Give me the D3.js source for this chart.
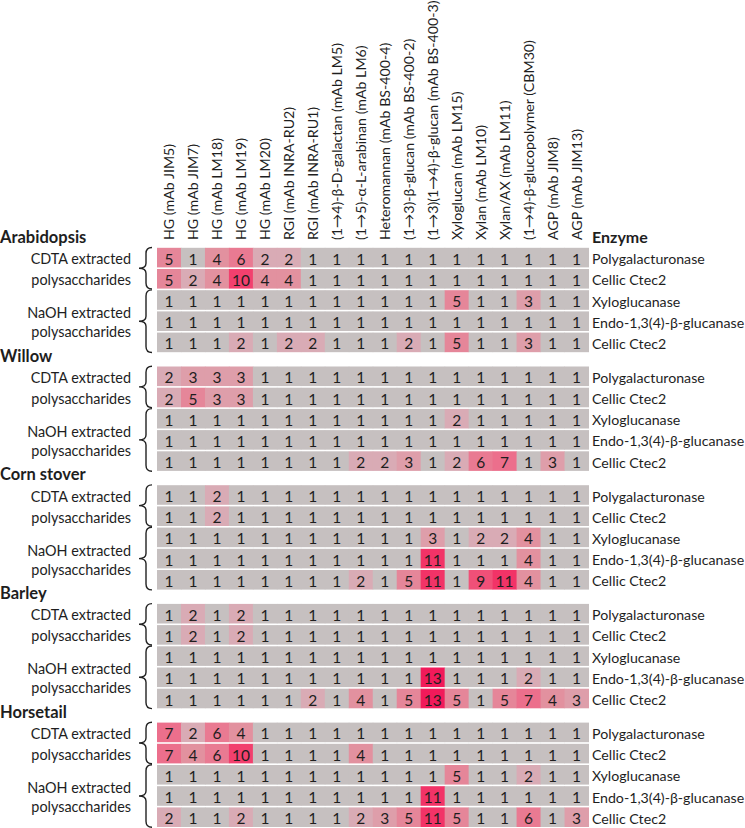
<!DOCTYPE html>
<html>
<head>
<meta charset="utf-8">
<script src="https://cdn.jsdelivr.net/npm/d3@7"></script>
<style>
  body { margin: 0; background: #fff; }
  svg { display: block; font-family: Lato, "Open Sans", sans-serif; }
</style>
</head>
<body>
<div id="chart"></div>
<script>
// Antibodies / probes (columns)
const probes = [
  'HG (mAb JIM5)', 'HG (mAb JIM7)', 'HG (mAb LM18)', 'HG (mAb LM19)', 'HG (mAb LM20)',
  'RGI (mAb INRA-RU2)', 'RGI (mAb INRA-RU1)', '(1→4)-β-D-galactan (mAb LM5)',
  '(1→5)-α-L-arabinan (mAb LM6)', 'Heteromannan (mAb BS-400-4)', '(1→3)-β-glucan (mAb BS-400-2)',
  '(1→3)(1→4)-β-glucan (mAb BS-400-3)', 'Xyloglucan (mAb LM15)', 'Xylan (mAb LM10)',
  'Xylan/AX (mAb LM11)', '(1→4)-β-glucopolymer (CBM30)', 'AGP (mAb JIM8)', 'AGP (mAb JIM13)'
];

const species = ['Arabidopsis', 'Willow', 'Corn stover', 'Barley', 'Horsetail'];
const enzymes = ['Polygalacturonase', 'Cellic Ctec2', 'Xyloglucanase', 'Endo-1,3(4)-β-glucanase', 'Cellic Ctec2'];

// fold change values, rows follow the enzymes list (2 CDTA rows, 3 NaOH rows)
const arabidopsis = [
  [5, 1, 4, 6, 2, 2, 1, 1, 1, 1, 1, 1, 1, 1, 1, 1, 1, 1],
  [5, 2, 4, 10, 4, 4, 1, 1, 1, 1, 1, 1, 1, 1, 1, 1, 1, 1],
  [1, 1, 1, 1, 1, 1, 1, 1, 1, 1, 1, 1, 5, 1, 1, 3, 1, 1],
  [1, 1, 1, 1, 1, 1, 1, 1, 1, 1, 1, 1, 1, 1, 1, 1, 1, 1],
  [1, 1, 1, 2, 1, 2, 2, 1, 1, 1, 2, 1, 5, 1, 1, 3, 1, 1]
];
const willow = [
  [2, 3, 3, 3, 1, 1, 1, 1, 1, 1, 1, 1, 1, 1, 1, 1, 1, 1],
  [2, 5, 3, 3, 1, 1, 1, 1, 1, 1, 1, 1, 1, 1, 1, 1, 1, 1],
  [1, 1, 1, 1, 1, 1, 1, 1, 1, 1, 1, 1, 2, 1, 1, 1, 1, 1],
  [1, 1, 1, 1, 1, 1, 1, 1, 1, 1, 1, 1, 1, 1, 1, 1, 1, 1],
  [1, 1, 1, 1, 1, 1, 1, 1, 2, 2, 3, 1, 2, 6, 7, 1, 3, 1]
];
const cornStover = [
  [1, 1, 2, 1, 1, 1, 1, 1, 1, 1, 1, 1, 1, 1, 1, 1, 1, 1],
  [1, 1, 2, 1, 1, 1, 1, 1, 1, 1, 1, 1, 1, 1, 1, 1, 1, 1],
  [1, 1, 1, 1, 1, 1, 1, 1, 1, 1, 1, 3, 1, 2, 2, 4, 1, 1],
  [1, 1, 1, 1, 1, 1, 1, 1, 1, 1, 1, 11, 1, 1, 1, 4, 1, 1],
  [1, 1, 1, 1, 1, 1, 1, 1, 2, 1, 5, 11, 1, 9, 11, 4, 1, 1]
];
const barley = [
  [1, 2, 1, 2, 1, 1, 1, 1, 1, 1, 1, 1, 1, 1, 1, 1, 1, 1],
  [1, 2, 1, 2, 1, 1, 1, 1, 1, 1, 1, 1, 1, 1, 1, 1, 1, 1],
  [1, 1, 1, 1, 1, 1, 1, 1, 1, 1, 1, 1, 1, 1, 1, 1, 1, 1],
  [1, 1, 1, 1, 1, 1, 1, 1, 1, 1, 1, 13, 1, 1, 1, 2, 1, 1],
  [1, 1, 1, 1, 1, 1, 2, 1, 4, 1, 5, 13, 5, 1, 5, 7, 4, 3]
];
const horsetail = [
  [7, 2, 6, 4, 1, 1, 1, 1, 1, 1, 1, 1, 1, 1, 1, 1, 1, 1],
  [7, 4, 6, 10, 1, 1, 1, 1, 4, 1, 1, 1, 1, 1, 1, 1, 1, 1],
  [1, 1, 1, 1, 1, 1, 1, 1, 1, 1, 1, 1, 5, 1, 1, 2, 1, 1],
  [1, 1, 1, 1, 1, 1, 1, 1, 1, 1, 1, 11, 1, 1, 1, 1, 1, 1],
  [2, 1, 1, 2, 1, 1, 1, 1, 2, 3, 5, 11, 5, 1, 1, 6, 1, 3]
];
const speciesValues = [arabidopsis, willow, cornStover, barley, horsetail];

const width = 745, height = 828;

const svg = d3.select('#chart').append('svg')
  .attr('width', width)
  .attr('height', height);

// column scale
const x = d3.scaleBand().domain(probes).range([157, 588.5]);

// species blocks, then rows inside a block
const blockPitch = 118.7;
const rowPitch = 21.2;
const yBlock = d3.scaleBand().domain(species).range([247, 247 + blockPitch * species.length]);
const yRow = d3.scaleBand().domain(d3.range(enzymes.length)).range([0, rowPitch * enzymes.length]);

const color = d3.scaleLinear()
  .domain([1, 2, 4, 7, 10, 13])
  .range(['#c6c0c0', '#d9abb5', '#e2919f', '#ec6f8c', '#f2406e', '#f11a5a'])
  .clamp(true);

// flatten cells
const cells = [];
species.forEach((s, si) => {
  speciesValues[si].forEach((row, ri) => {
    row.forEach((v, ci) => cells.push({ species: s, row: ri, probe: probes[ci], value: v }));
  });
});

const cellY = d => yBlock(d.species) + yRow(d.row);

const cellG = svg.append('g').attr('class', 'cells');
cellG.selectAll('rect')
  .data(cells)
  .join('rect')
  .attr('x', d => x(d.probe))
  .attr('y', d => cellY(d) + 0.8)
  .attr('width', x.bandwidth() + 0.5)
  .attr('height', yRow.bandwidth() - 1.6)
  .attr('fill', d => color(d.value));

cellG.selectAll('text')
  .data(cells)
  .join('text')
  .attr('x', d => x(d.probe) + x.bandwidth() / 2)
  .attr('y', d => cellY(d) + yRow.bandwidth() / 2 + 1)
  .attr('text-anchor', 'middle')
  .attr('dominant-baseline', 'central')
  .style('font-size', '15.5px')
  .style('fill', '#1e1e1e')
  .text(d => d.value);

// column headers (rotated)
svg.append('g').selectAll('text')
  .data(probes)
  .join('text')
  .attr('transform', d => `translate(${x(d) + x.bandwidth() / 2 + 5},240) rotate(-90)`)
  .style('font-size', '14.2px')
  .style('fill', '#1e1e1e')
  .text(d => d);

svg.append('text')
  .attr('x', 592)
  .attr('y', 243)
  .style('font-size', '16px')
  .style('font-weight', 'bold')
  .style('fill', '#1e1e1e')
  .text('Enzyme');

// enzyme labels on the right
const enzymeRows = species.flatMap(s => enzymes.map((e, i) => ({ species: s, row: i, enzyme: e })));
svg.append('g').selectAll('text')
  .data(enzymeRows)
  .join('text')
  .attr('x', 592)
  .attr('y', d => cellY(d) + yRow.bandwidth() / 2 + 1)
  .attr('dominant-baseline', 'central')
  .style('font-size', '14.2px')
  .style('fill', '#1e1e1e')
  .text(d => d.enzyme);

// species titles and extraction labels on the left
const left = svg.append('g');
species.forEach(s => {
  const top = yBlock(s);
  left.append('text')
    .attr('x', 0)
    .attr('y', top - 4)
    .style('font-size', '16.5px')
    .style('font-weight', 'bold')
    .style('fill', '#1e1e1e')
    .text(s);

  const mid = r => top + yRow(r) + yRow.bandwidth() / 2 + 1;
  const lbl = (txt, y) => left.append('text')
    .attr('x', 131)
    .attr('y', y)
    .attr('text-anchor', 'end')
    .attr('dominant-baseline', 'central')
    .style('font-size', '14.4px')
    .style('fill', '#1e1e1e')
    .text(txt);

  lbl('CDTA extracted', mid(0));
  lbl('polysaccharides', mid(1));
  lbl('NaOH extracted', mid(3) - 9.5);
  lbl('polysaccharides', mid(3) + 9.5);

  // curly braces
  const brace = (y1, y2) => {
    const xb = 146, ym = (y1 + y2) / 2;
    return `M${xb + 6},${y1} Q${xb},${y1} ${xb},${y1 + 6} L${xb},${ym - 5} Q${xb},${ym} ${xb - 7},${ym}` +
      ` Q${xb},${ym} ${xb},${ym + 5} L${xb},${y2 - 6} Q${xb},${y2} ${xb + 6},${y2}`;
  };
  left.append('path')
    .attr('d', brace(top + yRow(0) + 0.5, top + yRow(1) + yRow.bandwidth() - 0.5))
    .attr('fill', 'none')
    .attr('stroke', '#222')
    .attr('stroke-width', 1.4);
  left.append('path')
    .attr('d', brace(top + yRow(2) + 0.5, top + yRow(4) + yRow.bandwidth() - 0.5))
    .attr('fill', 'none')
    .attr('stroke', '#222')
    .attr('stroke-width', 1.4);
});
</script>
</body>
</html>
